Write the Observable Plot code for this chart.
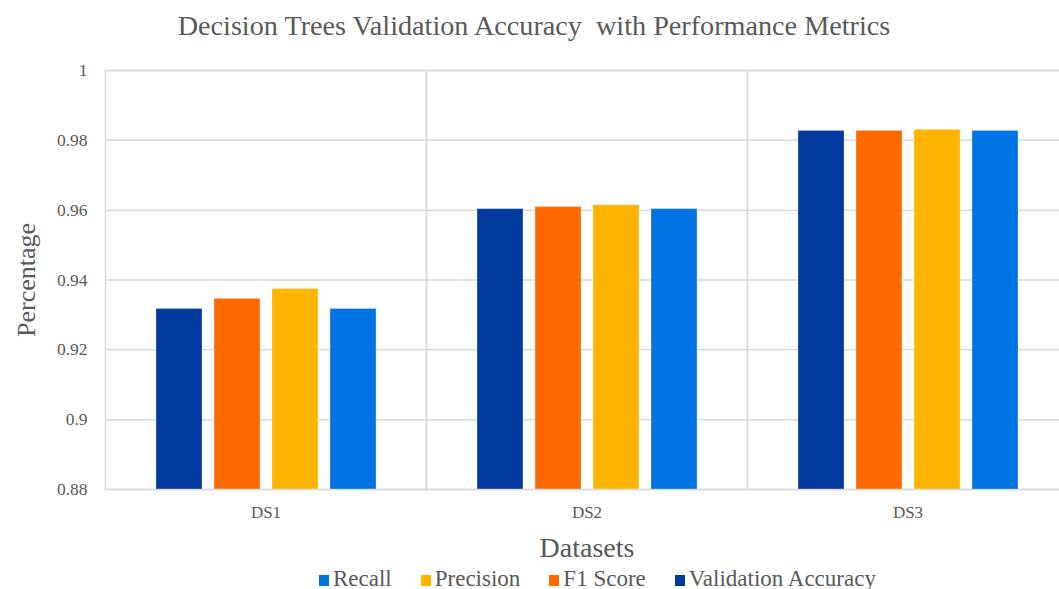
<!DOCTYPE html>
<html>
<head>
<meta charset="utf-8">
<script src="https://cdn.jsdelivr.net/npm/d3@7"></script>
<script src="https://cdn.jsdelivr.net/npm/@observablehq/plot@0.6"></script>
<style>
  html, body { margin: 0; padding: 0; background: #fff; overflow: hidden; width: 1059px; height: 589px; }
  #title { height: 50px; box-sizing: border-box; padding-top: 12px; padding-left: 9px; text-align: center;
           font-family: "Liberation Serif", serif;
           font-size: 28.2px; line-height: 28px; color: #595959; white-space: pre; }
  #chart svg { display: block; }
  #chart g[aria-label="y-axis label"] text { font-size: 26px; }
  #chart g[aria-label="fx-axis label"] text { font-size: 28px; }
  #legend { display: flex; align-items: baseline; box-sizing: border-box; padding-left: 319px; padding-top: 3px;
            font-family: "Liberation Serif", serif;
            font-size: 23px; line-height: 22.5px; color: #595959; white-space: nowrap; }
  #legend .item { display: flex; align-items: baseline; margin-right: 29px; }
  #legend .sw { display: inline-block; width: 10px; height: 11px; margin-right: 4px; }
</style>
</head>
<body>
<div id="title"></div>
<div id="chart"></div>
<div id="legend"></div>
<script>
// ---- data ----
const titleText = "Decision Trees Validation Accuracy  with Performance Metrics";
const xLabel = "Datasets";
const yLabel = "Percentage";
const datasets = ["DS1", "DS2", "DS3"];
const metrics = ["Validation Accuracy", "F1 Score", "Precision", "Recall"];
const valAcc    = [0.9317, 0.9603, 0.9827];
const f1Score   = [0.9346, 0.9609, 0.9827];
const precision = [0.9374, 0.9614, 0.9830];
const recall    = [0.9317, 0.9603, 0.9827];
const metricColors = ["#003a9f", "#ff6a00", "#ffb400", "#0074e2"];
const legendOrder = ["Recall", "Precision", "F1 Score", "Validation Accuracy"];
const yTicks = [0.88, 0.9, 0.92, 0.94, 0.96, 0.98, 1];

// ---- table ----
const series = [valAcc, f1Score, precision, recall];
const rows = datasets.flatMap((ds, i) =>
  metrics.map((m, j) => ({dataset: ds, metric: m, value: series[j][i]})));

document.getElementById("title").textContent = titleText;

const chart = Plot.plot({
  width: 1059,
  height: 515,
  marginLeft: 104,
  marginRight: -9,
  marginTop: 20,
  marginBottom: 76,
  style: {fontFamily: '"Liberation Serif", serif', color: "#595959", background: "white", overflow: "visible"},
  fx: {domain: datasets, padding: 0},
  x: {domain: metrics, paddingInner: 0.207, paddingOuter: 0.87, axis: null},
  y: {domain: [yTicks[0], yTicks[yTicks.length - 1]]},
  color: {domain: metrics, range: metricColors},
  marks: [
    Plot.gridY(yTicks, {stroke: "#d9d9d9", strokeOpacity: 1, strokeWidth: 1.5}),
    Plot.frame({stroke: "#d9d9d9", strokeWidth: 1.5}),
    Plot.barY(rows, {fx: "dataset", x: "metric", y1: yTicks[0], y2: "value", fill: "metric",
                     stroke: "white", strokeOpacity: 0.3}),
    Plot.axisY(yTicks, {tickSize: 0, tickPadding: 18, fontSize: 17.5,
                        tickFormat: d => String(+d.toFixed(2)),
                        label: yLabel, labelArrow: "none", labelAnchor: "center", labelOffset: 89}),
    Plot.axisFx({anchor: "bottom", tickSize: 0, tickPadding: 16, fontSize: 17,
                 label: xLabel, labelArrow: "none", labelAnchor: "center", labelOffset: 67})
  ]
});
document.getElementById("chart").append(chart);

const legend = document.getElementById("legend");
const colorOf = Object.fromEntries(metrics.map((m, i) => [m, metricColors[i]]));
for (const m of legendOrder) {
  const item = document.createElement("span");
  item.className = "item";
  const sw = document.createElement("span");
  sw.className = "sw";
  sw.style.background = colorOf[m];
  const t = document.createElement("span");
  t.textContent = m;
  item.append(sw, t);
  legend.append(item);
}
</script>
</body>
</html>
